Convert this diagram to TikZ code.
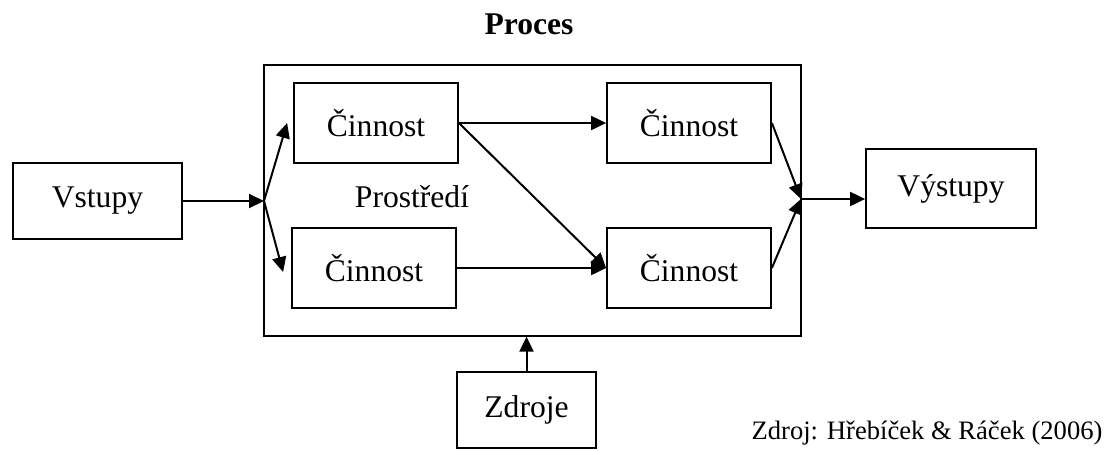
\documentclass[tikz,border=0pt]{standalone}
\usepackage{fontspec}
\setmainfont{Liberation Serif}
\usepackage{tikz}
\usetikzlibrary{arrows.meta,positioning,calc}

\begin{document}
\begin{tikzpicture}[
  x=0.5pt, y=-0.5pt,
  box/.style={draw, line width=0.9pt, minimum height=39pt, inner sep=0pt,
              align=center, font=\fontsize{15.8}{19}\selectfont},
  act/.style={box, minimum width=82pt, minimum height=40pt},
  arr/.style={-{Triangle[length=7.5pt,width=7pt]}, line width=1pt}
]
\useasboundingbox (0,0) rectangle (1111,450);
% process frame and title
\node[draw, line width=0.6pt, minimum width=268.5pt, minimum height=135.5pt,
      inner sep=0pt] (proc) at (532.5,200.5) {};
\node[font=\fontsize{15.8}{19}\selectfont\bfseries] (title) at (529,24) {Proces};
\node[font=\fontsize{15.8}{19}\selectfont] (env) at (412,197) {Prostředí};
% activities
\node[act] (c1) at (376,123) {Činnost};
\node[act] (c2) at (374,268) {Činnost};
\node[act] (c3) at (689,123) {Činnost};
\node[act] (c4) at (689,268) {Činnost};
% inputs, outputs, resources
\node[box, minimum width=84.5pt, minimum height=38pt] (in) at (97.5,201) {Vstupy};
\node[box, minimum width=85pt, minimum height=39.5pt] (out) at (951,188.5) {Výstupy};
\node[box, minimum width=69.5pt, minimum height=38pt] (res) at (526.5,410) {Zdroje};
\node[font=\fontsize{13.3}{16}\selectfont] (src) at (927,433) {Zdroj: Hřebíček \& Ráček (2006)};
\coordinate (split) at (264,201);
\coordinate (merge) at (801,199);
% connectors
\draw[arr] (in.east |- split) -- (split);
\draw[arr] (split) -- ([xshift=-3pt]c1.west);
\draw[arr] (split) -- ([xshift=-4pt,yshift=-2pt]c2.west);
\foreach \i/\j in {c1/c3,c1/c4,c2/c4} \draw[arr] (\i.east) -- (\j.west);
\foreach \i in {c3,c4} \draw[arr] (\i.east) -- (merge);
\draw[arr] (merge) -- (out.west |- merge);
\draw[arr] (res) -- (res |- proc.south);
\end{tikzpicture}
\end{document}
